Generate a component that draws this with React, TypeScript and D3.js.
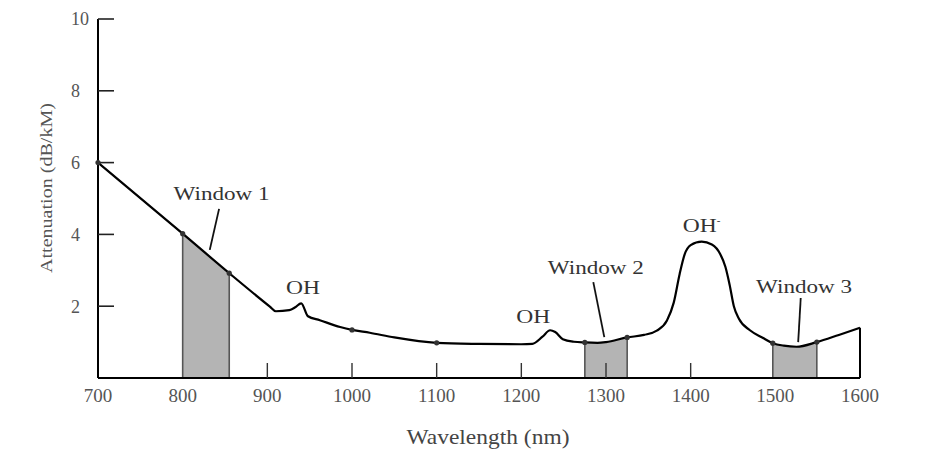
import React from "react";
import * as d3 from "d3";

// ---- data ----
const wavelengths = [700, 800, 855, 903, 910, 926, 933, 940, 948, 962, 986, 1000, 1021, 1050, 1100, 1150, 1200, 1213, 1225, 1234, 1240, 1249, 1262, 1275, 1290, 1300, 1325, 1345, 1360, 1372, 1380, 1387, 1393, 1400, 1413, 1425, 1435, 1441, 1446, 1451, 1457, 1470, 1485, 1497, 1510, 1525, 1549, 1575, 1600];
const attenuation = [6.0, 4.02, 2.92, 1.99, 1.86, 1.89, 1.97, 2.08, 1.72, 1.61, 1.42, 1.34, 1.26, 1.13, 0.98, 0.95, 0.94, 0.95, 1.15, 1.33, 1.28, 1.08, 1.01, 0.99, 0.98, 1.0, 1.13, 1.2, 1.32, 1.6, 2.1, 2.9, 3.45, 3.7, 3.8, 3.72, 3.45, 3.1, 2.6, 2.0, 1.65, 1.33, 1.12, 0.97, 0.9, 0.87, 1.0, 1.2, 1.4];

const xTickLabels = [700, 800, 900, 1000, 1100, 1200, 1300, 1400, 1500, 1600];
const xTickMarks = [900, 1000, 1100, 1200, 1300, 1400];
const yTickLabels = [2, 4, 6, 8, 10];

const windowNames = ["Window 1", "Window 2", "Window 3"];
const windowStart = [800, 1275, 1497];
const windowEnd = [855, 1325, 1549];
// label anchor (wavelength, attenuation) and leader line end points
const windowLabelAt = [[846, 4.96], [1288, 2.9], [1534, 2.37]];
const windowLeaderFrom = [[843, 4.71], [1285, 2.67], [1530, 2.23]];
const windowLeaderTo = [[832, 3.57], [1298, 1.14], [1527, 1.0]];

const ohLabels = ["OH", "OH", "OH"];
const ohSuperscript = ["", "", "-"];
const ohLabelAt = [[942, 2.35], [1214, 1.53], [1413, 4.07]];

const dotWavelengths = [700, 800, 855, 1000, 1100, 1275, 1325, 1497, 1549];

const W = 928;
const H = 450;
const FONT = "'Liberation Serif', 'DejaVu Serif', serif";

export default function App() {
  const x = d3.scaleLinear().domain([700, 1600]).range([98, 860]);
  const y = d3.scaleLinear().domain([0, 10]).range([378, 19]);

  const pts: [number, number][] = wavelengths.map((w, i) => [w, attenuation[i]]);
  const line = d3
    .line<[number, number]>()
    .x((d) => x(d[0]))
    .y((d) => y(d[1]))
    .curve(d3.curveMonotoneX);
  const area = d3
    .area<[number, number]>()
    .x((d) => x(d[0]))
    .y0(y(0))
    .y1((d) => y(d[1]))
    .curve(d3.curveMonotoneX);

  const valueAt = (w: number) => attenuation[wavelengths.indexOf(w)];

  return (
    <svg
      width={W}
      height={H}
      style={{ position: "absolute", left: 0, top: 0, background: "#fff" }}
      fontFamily={FONT}
    >
      <rect x={0} y={0} width={W} height={H} fill="#fff" />

      {/* window fills */}
      {windowStart.map((s, i) => {
        const seg = pts.filter((p) => p[0] >= s && p[0] <= windowEnd[i]);
        return (
          <g key={"w" + i}>
            <path d={area(seg) || ""} fill="#b4b4b4" />
            <line x1={x(s)} x2={x(s)} y1={y(0)} y2={y(valueAt(s))} stroke="#555" strokeWidth={1.6} />
            <line
              x1={x(windowEnd[i])}
              x2={x(windowEnd[i])}
              y1={y(0)}
              y2={y(valueAt(windowEnd[i]))}
              stroke="#555"
              strokeWidth={1.6}
            />
          </g>
        );
      })}

      {/* axes */}
      <line x1={x(700)} x2={x(700)} y1={y(10)} y2={y(0)} stroke="#000" strokeWidth={2} />
      <line x1={x(700)} x2={x(1600)} y1={y(0)} y2={y(0)} stroke="#000" strokeWidth={2} />
      <line x1={x(1600)} x2={x(1600)} y1={y(0)} y2={y(valueAt(1600))} stroke="#000" strokeWidth={2} />

      {yTickLabels.map((v) => (
        <g key={"yt" + v}>
          <line x1={x(700)} x2={x(700) + 16} y1={y(v)} y2={y(v)} stroke="#222" strokeWidth={1.6} />
          <text x={71} y={y(v)} dy="0.35em" fontSize={18} fill="#555">
            {v}
          </text>
        </g>
      ))}

      {xTickMarks.map((v) => (
        <line key={"xm" + v} x1={x(v)} x2={x(v)} y1={y(0)} y2={y(0) - 15} stroke="#333" strokeWidth={1.4} />
      ))}
      {xTickLabels.map((v) => (
        <text key={"xl" + v} x={x(v)} y={402} textAnchor="middle" fontSize={19} fill="#555">
          {v}
        </text>
      ))}

      {/* curve */}
      <path d={line(pts) || ""} fill="none" stroke="#000" strokeWidth={2.2} strokeLinejoin="round" />

      {dotWavelengths.map((w) => (
        <circle key={"d" + w} cx={x(w)} cy={y(valueAt(w))} r={2.6} fill="#333" />
      ))}

      {/* window labels */}
      {windowNames.map((n, i) => (
        <g key={"wl" + i}>
          <text
            x={x(windowLabelAt[i][0])}
            y={y(windowLabelAt[i][1])}
            textAnchor="middle"
            fontSize={19}
            fill="#333"
            textLength={96}
            lengthAdjust="spacingAndGlyphs"
          >
            {n}
          </text>
          <line
            x1={x(windowLeaderFrom[i][0])}
            y1={y(windowLeaderFrom[i][1])}
            x2={x(windowLeaderTo[i][0])}
            y2={y(windowLeaderTo[i][1])}
            stroke="#111"
            strokeWidth={1.8}
          />
        </g>
      ))}

      {/* OH labels */}
      {ohLabels.map((t, i) => (
        <text
          key={"oh" + i}
          x={x(ohLabelAt[i][0])}
          y={y(ohLabelAt[i][1])}
          textAnchor="middle"
          fontSize={18}
          fill="#333"
        >
          <tspan textLength={34} lengthAdjust="spacingAndGlyphs">
            {t}
          </tspan>
          {ohSuperscript[i] ? (
            <tspan dy={-8} fontSize={11}>
              {ohSuperscript[i]}
            </tspan>
          ) : null}
        </text>
      ))}

      {/* axis titles */}
      <text
        transform={`translate(52,188) rotate(-90)`}
        textAnchor="middle"
        fontSize={16}
        fill="#555"
        textLength={170}
        lengthAdjust="spacingAndGlyphs"
      >
        Attenuation (dB/kM)
      </text>
      <text
        x={488}
        y={444}
        textAnchor="middle"
        fontSize={21}
        fill="#444"
        textLength={163}
        lengthAdjust="spacingAndGlyphs"
      >
        Wavelength (nm)
      </text>
    </svg>
  );
}
